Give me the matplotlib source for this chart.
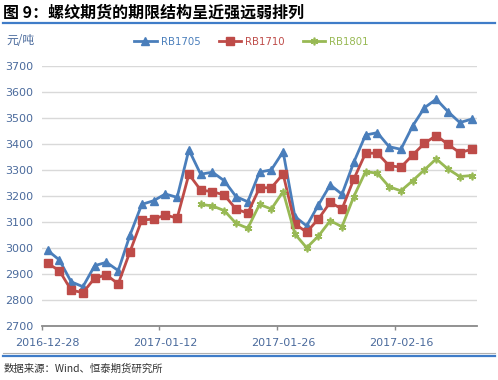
import matplotlib
matplotlib.use('Agg')
import matplotlib.pyplot as plt
from matplotlib.lines import Line2D

plt.rcParams['font.family'] = ['DejaVu Sans', 'Noto Sans CJK SC']

# trading days 2016-12-28 .. 2017-02-24 (labels only on a few)
tick_idx = [0, 10, 20, 30]
tick_labels = ['2016-12-28', '2017-01-12', '2017-01-26', '2017-02-16']

rb1705 = [2990, 2953, 2869, 2850, 2931, 2944, 2912, 3049, 3167, 3181,
          3207, 3194, 3377, 3283, 3291, 3258, 3197, 3177, 3291, 3300,
          3370, 3120, 3084, 3165, 3242, 3206, 3329, 3434, 3443, 3389,
          3379, 3469, 3539, 3572, 3524, 3482, 3495]
rb1710 = [2940, 2912, 2837, 2827, 2883, 2895, 2861, 2985, 3107, 3110,
          3126, 3114, 3283, 3222, 3216, 3203, 3149, 3133, 3231, 3231,
          3284, 3092, 3060, 3111, 3175, 3149, 3264, 3364, 3364, 3316,
          3310, 3357, 3402, 3432, 3398, 3366, 3379]
# RB1801 starts later
rb1801 = [None] * 13 + [3167, 3161, 3143, 3094, 3075, 3167, 3149,
          3216, 3053, 3000, 3045, 3104, 3081, 3197, 3293, 3287, 3235,
          3219, 3258, 3300, 3342, 3303, 3274, 3278]

blue = '#4a7ebb'
red = '#be4b48'
green = '#98b954'
axis_txt = '#4a6a9c'

fig = plt.figure(figsize=(4.98, 3.8), dpi=100)
ax = fig.add_axes([0.0837, 0.143, 0.875, 0.6835])

x = list(range(len(rb1705)))
x3 = [i for i, v in enumerate(rb1801) if v is not None]
y3 = [v for v in rb1801 if v is not None]

ax.plot(x, rb1705, color=blue, lw=2, marker='^', ms=5.5, label='RB1705')
ax.plot(x, rb1710, color=red, lw=2, marker='s', ms=5.5, label='RB1710')
ax.plot(x3, y3, color=green, lw=2, marker=(6, 2, 0), ms=5.5, mew=1.2, label='RB1801')

ax.set_xlim(-0.5, len(x) - 0.5)
ax.set_ylim(2700, 3700)
ax.set_yticks(range(2700, 3701, 100))
ax.grid(axis='y', color='#d9d9d9', lw=1)
ax.set_axisbelow(True)

ax.set_xticks(tick_idx)
ax.set_xticklabels(tick_labels)
ax.set_xticks([i - 0.5 for i in tick_idx], minor=True)
ax.tick_params(axis='x', which='major', length=0, pad=9, labelsize=8, labelcolor=axis_txt)
ax.tick_params(axis='x', which='minor', length=3, width=1, color='#898989')
ax.tick_params(axis='y', length=0, pad=6, labelsize=8, labelcolor=axis_txt)

for s in ['top', 'right', 'left']:
    ax.spines[s].set_visible(False)
ax.spines['bottom'].set_color('#898989')
ax.spines['bottom'].set_linewidth(1.3)

leg = fig.legend(loc='center', bbox_to_anchor=(0.505, 1 - 42 / 380), ncol=3,
                 frameon=False, fontsize=7.3, handlelength=2.2, columnspacing=1.8,
                 handletextpad=0.4)
for t, c in zip(leg.get_texts(), [blue, red, green]):
    t.set_color(c)

fig.text(0.006, 1 - 13 / 380, '图 9：螺纹期货的期限结构呈近强远弱排列', fontsize=11.5,
         fontweight='bold', va='center', ha='left', family=['Noto Sans CJK SC'])
fig.add_artist(Line2D([0.006, 0.994], [1 - 23 / 380] * 2, color='#3f7cc8', lw=1.6))
fig.text(0.012, 1 - 40 / 380, '元/吨', fontsize=8.5, color=axis_txt, va='center',
         family=['Noto Sans CJK SC'])

fig.add_artist(Line2D([0.006, 0.994], [1 - 353 / 380] * 2, color='#b0b0b0', lw=0.8))
fig.add_artist(Line2D([0.006, 0.994], [1 - 355.5 / 380] * 2, color='#3f7cc8', lw=1.6))
fig.text(0.008, 1 - 369 / 380, '数据来源：Wind、恒泰期货研究所', fontsize=7.5,
         color='#333333', va='center', family=['Noto Sans CJK SC', 'DejaVu Sans'])

fig.savefig('out.png', dpi=100)
